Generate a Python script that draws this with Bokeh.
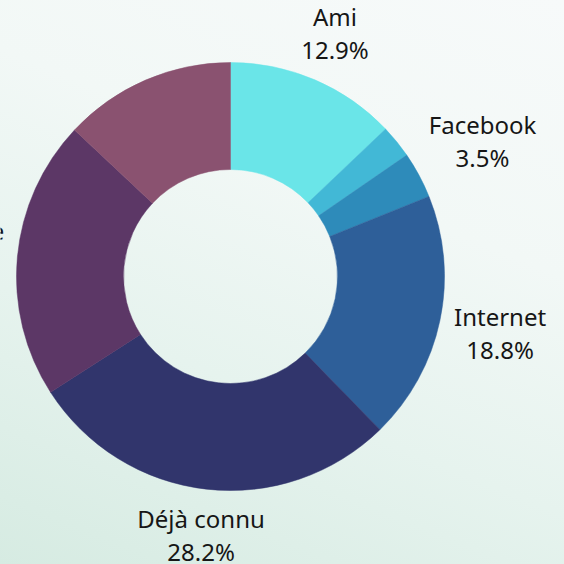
import math
from bokeh.plotting import figure
from bokeh.models import Range1d, ColumnDataSource
from bokeh.embed import file_html
from bokeh.resources import INLINE
from bokeh.core.properties import value

# ---- data ----
categories = ["Ami", "Réseaux sociaux", "Facebook", "Internet", "Déjà connu", "Bouche à oreille", "Autre"]
shares = [12.9, 2.5, 3.5, 18.8, 28.2, 21.1, 13.0]
show_label = [True, False, True, True, True, True, False]
colors = ["#6ae5e8", "#42b8d6", "#2e8bba", "#2e5f99", "#31356c", "#5c3766", "#8a5270"]

# ---- layout ----
W = H = 564
CX, CY = 230, 276          # donut centre measured from figure left / top (px)
R_OUT, R_IN = 214, 107
GAP = 11
FONT = "Noto Sans"
FS = 24
BLOCK_H = 58

# approximate Noto Sans advance widths (em) for estimating label widths
ADV = {"A": .639, "m": .925, "i": .258, "F": .532, "a": .561, "c": .480, "e": .564,
       "b": .615, "o": .605, "k": .524, "I": .293, "n": .618, "t": .361, "r": .411,
       "D": .713, "é": .564, "j": .258, "à": .561, " ": .260, "u": .618, ".": .269,
       "%": .823, "B": .648, "h": .618, "l": .258}


def text_w(s):
    return FS * sum(ADV.get(ch, .572 if ch.isdigit() else .56) for ch in s)


p = figure(width=W, height=H, output_backend="svg", toolbar_location=None,
           x_range=Range1d(-CX, W - CX), y_range=Range1d(-(H - CY), CY),
           min_border=0)
p.axis.visible = False
p.grid.visible = False
p.outline_line_color = None
p.background_fill_alpha = 0
p.border_fill_alpha = 0
p.styles = {"background": "linear-gradient(22deg, #d6ebe2 0%, #e6f3ee 35%, #f2f8f6 65%, #f7fafa 100%)"}

total = sum(shares)
starts, ends = [], []
cum = 0.0
for s in shares:
    starts.append(math.pi / 2 - 2 * math.pi * cum / total)
    cum += s
    ends.append(math.pi / 2 - 2 * math.pi * cum / total)

src = ColumnDataSource(dict(x=[0] * len(shares), y=[0] * len(shares),
                            start=starts, end=ends, color=colors))
p.annular_wedge(x="x", y="y", inner_radius=R_IN, outer_radius=R_OUT,
                start_angle="start", end_angle="end", direction="clock",
                fill_color="color", line_color="color", line_width=0.5, source=src)

# ---- labels ----
nx, ny, nt, px_, py_, pt = [], [], [], [], [], []
cum = 0.0
for cat, s, show in zip(categories, shares, show_label):
    mid = 2 * math.pi * (cum + s / 2) / total
    cum += s
    if not show:
        continue
    pct = f"{s:.1f}%"
    ux, uy = math.sin(mid), math.cos(mid)
    w = max(text_w(cat), text_w(pct))
    d = R_OUT + GAP + w / 2 * abs(ux) + BLOCK_H / 2 * abs(uy)
    bx, by = d * ux, d * uy
    nx.append(bx); ny.append(by + 17); nt.append(cat)
    px_.append(bx); py_.append(by - 16); pt.append(pct)

p.text(x=nx, y=ny, text=nt, text_align="center", text_baseline="alphabetic",
       text_font=value(FONT), text_font_size=f"{FS}px", text_color="#161616")
p.text(x=px_, y=py_, text=pt, text_align="center", text_baseline="alphabetic",
       text_font=value(FONT), text_font_size=f"{FS}px", text_color="#161616")

open("out.html", "w").write(file_html(p, INLINE))
